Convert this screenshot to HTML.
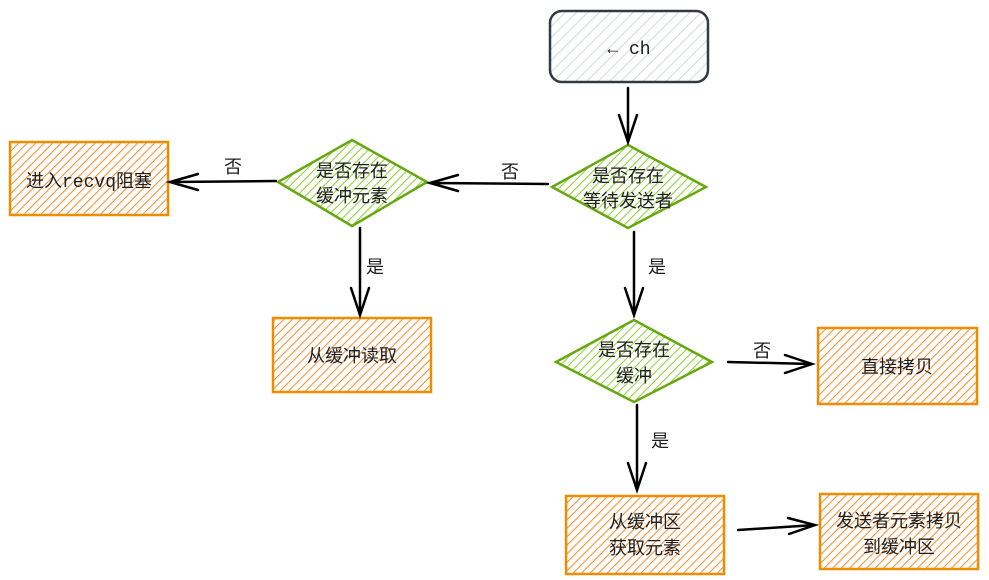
<!DOCTYPE html>
<html><head><meta charset="utf-8"><style>
html,body{margin:0;padding:0;background:#fff;}
svg{display:block;font-family:"Liberation Sans","Noto Sans CJK SC",sans-serif;}
</style></head><body>
<svg width="989" height="580" viewBox="0 0 989 580" xmlns="http://www.w3.org/2000/svg">
<defs>
<pattern id="hg" width="8" height="8" patternUnits="userSpaceOnUse" patternTransform="rotate(45)"><line x1="0" y1="0" x2="0" y2="8" stroke="#ced4da" stroke-width="1.8"/></pattern>
<pattern id="ho" width="6" height="6" patternUnits="userSpaceOnUse" patternTransform="rotate(45)"><line x1="0" y1="0" x2="0" y2="6" stroke="#fd7e14" stroke-width="1.8"/></pattern>
<pattern id="hn" width="6" height="6" patternUnits="userSpaceOnUse" patternTransform="rotate(45)"><line x1="0" y1="0" x2="0" y2="6" stroke="#82c91e" stroke-width="1.8"/></pattern>
</defs>
<g stroke-width="2.5">
<rect x="550" y="11" width="158" height="71" rx="12" fill="url(#hg)" stroke="#343a40"/>
<rect x="10" y="142" width="158" height="73" fill="url(#ho)" stroke="#f08c00"/>
<rect x="273" y="318" width="158" height="74" fill="url(#ho)" stroke="#f08c00"/>
<rect x="818" y="328" width="159" height="76" fill="url(#ho)" stroke="#f08c00"/>
<rect x="566" y="496" width="158" height="78" fill="url(#ho)" stroke="#f08c00"/>
<rect x="820" y="494" width="158" height="75" fill="url(#ho)" stroke="#f08c00"/>
<polygon points="628,145 706,187 628,228 552,187" fill="url(#hn)" stroke="#66a80f"/>
<polygon points="352,140 427,182 352,226 278,182" fill="url(#hn)" stroke="#66a80f"/>
<polygon points="634,320 712,362 634,402 556,362" fill="url(#hn)" stroke="#66a80f"/>
</g>
<g stroke="#000" stroke-width="2.5" fill="none" stroke-linecap="round">
<path d="M628 88 L628 142 M619 115 L628 142 L637 115"/>
<path d="M548 184 L430 183 M458 175 L430 183 L458 191"/>
<path d="M276 181 L170 182 M198 174 L170 182 L198 190"/>
<path d="M360 228 L360 315 M351 288 L360 315 L369 288"/>
<path d="M634 232 L634 315 M625 288 L634 315 L643 288"/>
<path d="M728 362 L812 364 M785 355 L812 364 L785 373"/>
<path d="M637 405 L637 490 M628 463 L637 490 L646 463"/>
<path d="M738 530 L815 525 M788 518 L815 525 L789 534"/>
</g>
<g font-size="18" fill="#1e1e1e" text-anchor="middle">
<text x="629" y="54" font-family="Liberation Mono, monospace">← ch</text>
<text x="628" y="182">是否存在</text>
<text x="628" y="207">等待发送者</text>
<text x="352" y="177">是否存在</text>
<text x="352" y="202">缓冲元素</text>
<text x="634" y="356">是否存在</text>
<text x="634" y="382">缓冲</text>
<text x="89" y="187">进入<tspan font-family="Liberation Mono, monospace">recvq</tspan>阻塞</text>
<text x="352" y="362">从缓冲读取</text>
<text x="897" y="373">直接拷贝</text>
<text x="645" y="528">从缓冲区</text>
<text x="645" y="554">获取元素</text>
<text x="899" y="527">发送者元素拷贝</text>
<text x="899" y="553">到缓冲区</text>
<text x="510" y="178">否</text>
<text x="233" y="173">否</text>
<text x="375" y="273">是</text>
<text x="657" y="273">是</text>
<text x="762" y="357">否</text>
<text x="660" y="447">是</text>
</g>
</svg>
</body></html>
